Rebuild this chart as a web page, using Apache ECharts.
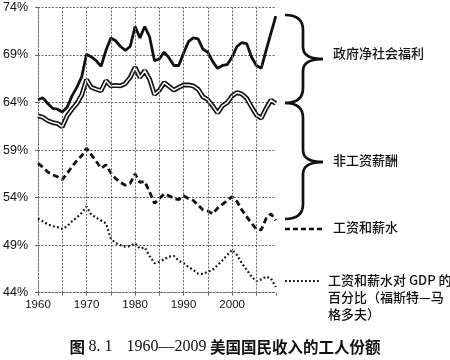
<!DOCTYPE html>
<html>
<head>
<meta charset="utf-8">
<script src="https://cdn.jsdelivr.net/npm/echarts@6/dist/echarts.min.js"></script>
<style>html,body{margin:0;padding:0;background:#fff}#c{width:450px;height:360px}</style>
</head>
<body>
<div id="c"></div>
<script>
var years = [1960,1961,1962,1963,1964,1965,1966,1967,1968,1969,
             1970,1971,1972,1973,1974,1975,1976,1977,1978,1979,
             1980,1981,1982,1983,1984,1985,1986,1987,1988,1989,
             1990,1991,1992,1993,1994,1995,1996,1997,1998,1999,
             2000,2001,2002,2003,2004,2005,2006,2007,2008,2009];
// wages + non-wage compensation + government net social benefits
var totalShare = [64.3,64.5,63.9,63.4,63.3,63.0,63.5,64.7,65.6,66.7,
                  69.1,68.8,68.4,67.8,69.5,70.8,70.5,69.9,69.5,69.9,
                  72.0,70.8,72.0,70.9,68.4,68.6,69.3,68.7,67.9,67.9,
                  69.2,70.4,70.8,70.7,69.6,69.3,68.3,67.6,67.9,68.0,
                  68.8,69.9,70.3,70.2,68.8,67.9,67.6,69.5,71.3,73.1];
// wages + non-wage compensation
var compensation = [62.6,62.45,62.1,61.9,61.8,61.45,62.6,63.3,63.9,64.8,
                    66.4,65.6,65.4,65.25,66.3,65.75,65.8,65.75,66.0,66.65,
                    67.7,66.65,67.35,66.45,64.85,65.3,66.1,65.7,65.3,65.6,
                    65.85,65.85,65.75,65.4,64.6,64.3,63.65,62.9,63.65,64.0,
                    64.7,65.05,64.9,64.45,63.55,62.7,62.35,63.4,64.25,63.9];
// wages and salaries
var wages = [57.6,57.2,56.7,56.4,56.2,55.9,56.55,57.25,57.9,58.4,
             59.2,58.5,57.8,57.1,57.45,56.6,56.0,55.6,55.3,55.5,
             56.5,55.6,55.7,54.6,53.4,53.9,54.4,54.2,53.9,53.8,
             54.2,53.9,53.7,53.2,52.7,52.6,52.3,52.9,53.3,53.7,
             54.1,53.6,52.7,52.0,51.3,50.7,50.6,51.8,52.3,51.6];
// wages and salaries as % of GDP
var wagesGdp = [51.8,51.5,51.2,51.0,50.9,50.7,51.0,51.5,51.9,52.4,
                53.05,52.2,51.9,51.6,51.3,49.7,49.2,49.0,48.85,48.9,
                49.2,48.65,48.75,47.85,47.1,47.26,47.5,47.8,47.86,47.37,
                47.1,46.7,46.4,46.0,45.97,46.2,46.4,46.9,47.4,47.97,
                48.5,47.97,47.1,46.4,45.7,45.2,45.4,45.7,45.5,44.6];
var xTickLabels = ['1960','1970','1980','1990','2000'];
var gridYears = [1965,1970,1975,1980,1985,1990,1995,2000,2005];
var labelBenefits = '政府净社会福利';
var labelNonWage = '非工资薪酬';
var labelWages = '工资和薪水';
var labelWagesGdp = ['工资和薪水对 GDP 的', '百分比（福斯特—马', '格多夫）'];

function pairs(arr){ return years.map(function(y,i){ return [y, arr[i]]; }); }

var gridStyle = {color:'#666', type:[2,1.5], width:1};
var chart = echarts.init(document.getElementById('c'), null, {renderer:'canvas'});

var braceStroke = {fill:null, stroke:'#111', lineWidth:2.7};
function brace(x0, xs, xt, y0, ym, y1){
  return [
    {type:'bezierCurve', shape:{x1:x0,y1:y0,cpx1:x0+12,cpy1:y0,cpx2:xs,cpy2:y0+5,x2:xs,y2:y0+15}, style:braceStroke},
    {type:'line', shape:{x1:xs,y1:y0+15,x2:xs,y2:ym-12}, style:braceStroke},
    {type:'bezierCurve', shape:{x1:xs,y1:ym-12,cpx1:xs,cpy1:ym-4,cpx2:xs+7,cpy2:ym,x2:xt,y2:ym}, style:braceStroke},
    {type:'bezierCurve', shape:{x1:xt,y1:ym,cpx1:xs+7,cpy1:ym,cpx2:xs,cpy2:ym+4,x2:xs,y2:ym+12}, style:braceStroke},
    {type:'line', shape:{x1:xs,y1:ym+12,x2:xs,y2:y1-15}, style:braceStroke},
    {type:'bezierCurve', shape:{x1:xs,y1:y1-15,cpx1:xs,cpy1:y1-5,cpx2:x0+12,cpy2:y1,x2:x0,y2:y1}, style:braceStroke}
  ];
}
var txtFont = '"Noto Sans CJK SC", sans-serif';
var txtStyle = 'normal 500 13px '+txtFont;

var graphics = [].concat(
  brace(285,303,323,15,59,103),
  brace(285,303,323,103,162,219),
  [
    {type:'line', shape:{x1:285,y1:229,x2:322,y2:229}, style:{stroke:'#111', lineWidth:2.7, lineDash:[5,3]}},
    {type:'line', shape:{x1:285,y1:281,x2:321,y2:281}, style:{stroke:'#111', lineWidth:2, lineDash:[1.8,2.2]}},
    {type:'text', left:333, top:47, style:{text:labelBenefits, font:txtStyle, fill:'#111'}},
    {type:'text', left:333, top:154, style:{text:labelNonWage, font:txtStyle, fill:'#111'}},
    {type:'text', left:333, top:221, style:{text:labelWages, font:txtStyle, fill:'#111'}},
    {type:'text', left:328, top:272, style:{text:labelWagesGdp.join('\n'), font:txtStyle, fill:'#111', lineHeight:17}},
    {type:'text', left:'center', top:339, style:{
      text:'{a|图 }{b|8. 1}{a|    }{b|1960—2009}{a| 美国国民收入的工人份额}',
      rich:{
        a:{fontFamily:txtFont, fontWeight:'bold', fontSize:15.5, fill:'#111'},
        b:{fontFamily:'"Liberation Serif", serif', fontWeight:'normal', fontSize:16, fill:'#111'}
      }}}
  ]
);

var option = {
  animation:false,
  backgroundColor:'#fff',
  grid:{left:37.7, top:7.5, right:174.2, bottom:67.3, containLabel:false},
  xAxis:{
    type:'value', min:1960, max:2009, interval:5,
    axisLine:{show:true, lineStyle:gridStyle},
    axisTick:{show:true, length:3, lineStyle:{color:'#666'}},
    splitLine:{show:false},
    axisLabel:{color:'#111', fontSize:11.5, fontFamily:'"Liberation Sans", Arial, sans-serif', margin:6,
      formatter:function(v){ var s=String(v); return xTickLabels.indexOf(s)>=0 ? s : ''; }}
  },
  yAxis:{
    type:'value', min:44, max:74, interval:5,
    axisLine:{show:true, lineStyle:gridStyle},
    axisTick:{show:true, length:3, lineStyle:{color:'#666'}},
    splitLine:{show:true, lineStyle:gridStyle},
    axisLabel:{color:'#111', fontSize:12.5, fontFamily:'"Liberation Sans", Arial, sans-serif', margin:10,
      formatter:function(v){ return v+'%'; }}
  },
  series:[
    {type:'line', data:pairs(totalShare), symbol:'none', silent:true,
     lineStyle:{color:'#111', width:2.8},
     markLine:{silent:true, symbol:'none', label:{show:false}, animation:false,
       lineStyle:gridStyle, data:gridYears.map(function(y){return {xAxis:y};})}},
    {type:'line', data:pairs(compensation), symbol:'none', silent:true, lineStyle:{color:'#111', width:4.8}},
    {type:'line', data:pairs(compensation), symbol:'none', silent:true, lineStyle:{color:'#fff', width:1.5}},
    {type:'line', data:pairs(wages), symbol:'none', silent:true, lineStyle:{color:'#111', width:2.8, type:[6,3.5]}},
    {type:'line', data:pairs(wagesGdp), symbol:'none', silent:true, lineStyle:{color:'#111', width:2.2, type:[1.8,2.4]}}
  ],
  graphic:graphics
};
chart.setOption(option);
</script>
</body>
</html>
